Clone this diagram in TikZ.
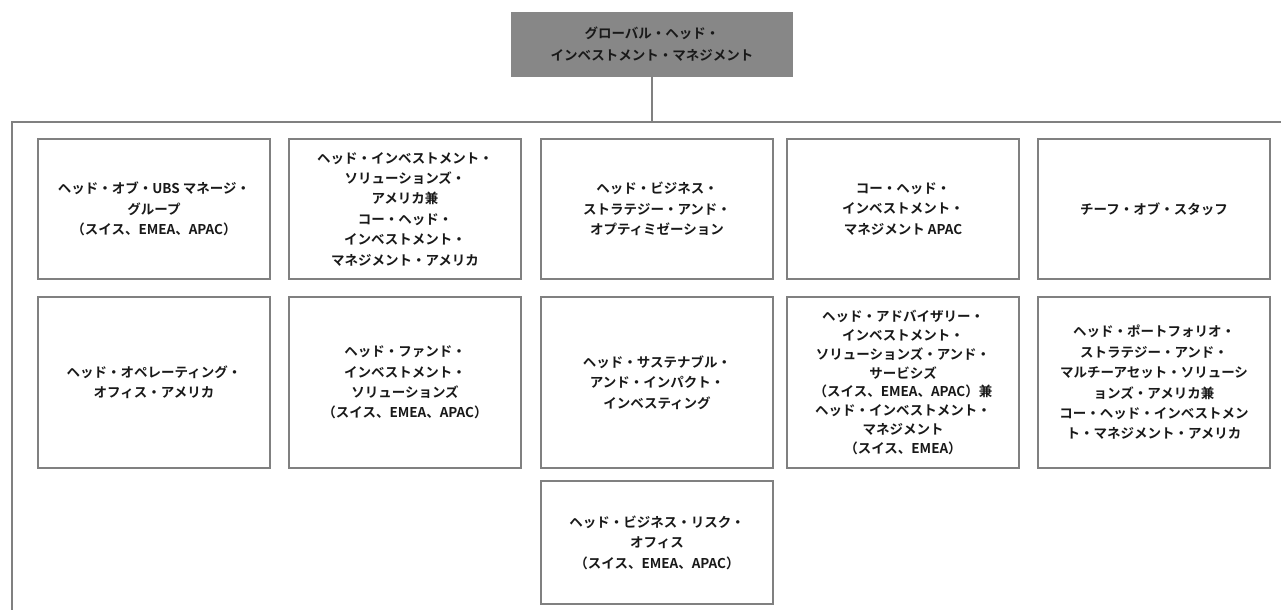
\documentclass[tikz,border=0pt]{standalone}
\usepackage{fontspec}
\setmainfont{Noto Sans CJK JP}[BoldFont={Noto Sans CJK JP Bold}]
\definecolor{linegray}{RGB}{128,128,128}
\definecolor{headfill}{RGB}{135,135,135}
\definecolor{txt}{RGB}{25,25,25}
\tikzset{
  orgbox/.style={draw=linegray, line width=1.1pt, fill=white, inner sep=0pt, align=center,
    font=\bfseries\fontsize{13.5}{20.4}\selectfont, text=txt},
  headbox/.style={orgbox, fill=headfill, draw=headfill, font=\bfseries\fontsize{13.5}{22}\selectfont},
  conn/.style={draw=linegray, line width=1.1pt}
}
\newcommand{\orgbx}[7][]{%
  \node[orgbox,#1, minimum width={(#4-#2)*1pt}, minimum height={(#5-#3)*1pt}]
    (#6) at ({(#2+#4)/2},{(#3+#5)/2}) {#7};}
\begin{document}
\begin{tikzpicture}[x=1pt,y=-1pt]
\useasboundingbox (0,0) rectangle (1281,610);
\orgbx[headbox]{512}{13}{792}{76}{top}{グローバル・ヘッド・\\インベストメント・マネジメント}
% row 1
\orgbx{38}{139}{270}{279}{a1}{ヘッド・オブ・UBS マネージ・\\グループ\\（スイス、EMEA、APAC）}
\orgbx{289}{139}{521}{279}{a2}{ヘッド・インベストメント・\\ソリューションズ・\\アメリカ兼\\コー・ヘッド・\\インベストメント・\\マネジメント・アメリカ}
\orgbx{541}{139}{773}{279}{a3}{ヘッド・ビジネス・\\ストラテジー・アンド・\\オプティミゼーション}
\orgbx{787}{139}{1019}{279}{a4}{コー・ヘッド・\\インベストメント・\\マネジメント APAC}
\orgbx{1038}{139}{1270}{279}{a5}{チーフ・オブ・スタッフ}
% row 2
\orgbx{38}{297}{270}{468}{b1}{ヘッド・オペレーティング・\\オフィス・アメリカ}
\orgbx{289}{297}{521}{468}{b2}{ヘッド・ファンド・\\インベストメント・\\ソリューションズ\\（スイス、EMEA、APAC）}
\orgbx{541}{297}{773}{468}{b3}{ヘッド・サステナブル・\\アンド・インパクト・\\インベスティング}
\orgbx[font=\bfseries\fontsize{13.5}{18.8}\selectfont]{787}{297}{1019}{468}{b4}{ヘッド・アドバイザリー・\\インベストメント・\\ソリューションズ・アンド・\\サービシズ\\（スイス、EMEA、APAC）兼\\ヘッド・インベストメント・\\マネジメント\\（スイス、EMEA）}
\orgbx{1038}{297}{1270}{468}{b5}{ヘッド・ポートフォリオ・\\ストラテジー・アンド・\\マルチーアセット・ソリューシ\\ョンズ・アメリカ兼\\コー・ヘッド・インベストメン\\ト・マネジメント・アメリカ}
% row 3
\orgbx{541}{481}{773}{604}{c3}{ヘッド・ビジネス・リスク・\\オフィス\\（スイス、EMEA、APAC）}
% connectors
\coordinate (barL) at (12,122);
\coordinate (barR) at (1281,122);
\coordinate (barB) at (12,610);
\draw[conn] (top.south) -- (top.south |- barL);
\draw[conn] (barR) -- (barL) -- (barB);
\end{tikzpicture}
\end{document}
